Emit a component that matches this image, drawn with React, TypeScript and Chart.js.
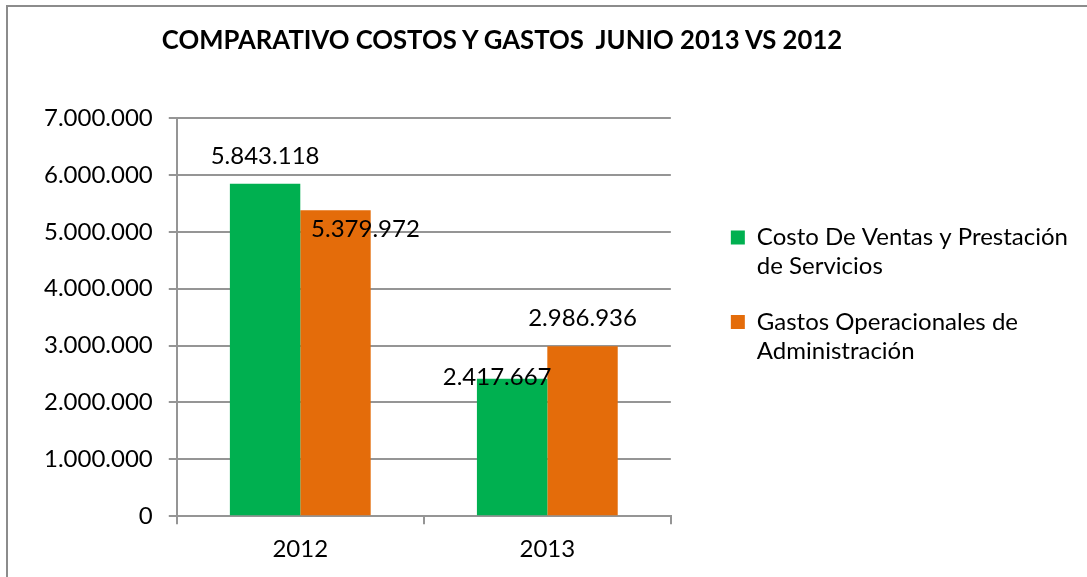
import React, { useEffect, useRef } from "react";
import { Chart, registerables } from "chart.js";

Chart.register(...registerables);

const categories = ["2012", "2013"];
const seriesNames = [
  "Costo De Ventas y Prestación de Servicios",
  "Gastos Operacionales de Administración",
];
const legendLines = [
  ["Costo De Ventas y Prestación", "de Servicios"],
  ["Gastos Operacionales de", "Administración"],
];
const costoVentas = [5843118, 2417667];
const gastosOperacionales = [5379972, 2986936];
const yTicks = [0, 1000000, 2000000, 3000000, 4000000, 5000000, 6000000, 7000000];
const title = "COMPARATIVO COSTOS Y GASTOS  JUNIO 2013 VS 2012";

const colors = ["#00B050", "#E46C0A"];
const gridColor = "#959595";
const FONT = "Lato";

// label offsets (pixels) relative to the top-centre of each bar, per dataset / point
const labelOffsets = [
  [[0, -28], [-15, -1]],
  [[30, 19], [0, -28]],
];

const fmt = (v: number) =>
  String(Math.round(v)).replace(/\B(?=(\d{3})+(?!\d))/g, ".");

const valueLabels = {
  id: "valueLabels",
  afterDatasetsDraw(chart: any) {
    const ctx = chart.ctx;
    ctx.save();
    ctx.font = `24px ${FONT}`;
    ctx.fillStyle = "#000";
    ctx.textAlign = "center";
    ctx.textBaseline = "middle";
    chart.data.datasets.forEach((ds: any, i: number) => {
      const meta = chart.getDatasetMeta(i);
      meta.data.forEach((el: any, j: number) => {
        const off = labelOffsets[i][j];
        ctx.fillText(fmt(ds.data[j]), el.x + off[0], el.y + off[1]);
      });
    });
    ctx.restore();
  },
};

export default function App() {
  const ref = useRef<HTMLCanvasElement>(null);

  useEffect(() => {
    if (!ref.current) return;
    Chart.defaults.font.family = FONT;
    const chart = new Chart(ref.current, {
      type: "bar",
      data: {
        labels: categories,
        datasets: [
          {
            label: seriesNames[0],
            data: costoVentas,
            backgroundColor: colors[0],
            categoryPercentage: 0.57,
            barPercentage: 1,
          },
          {
            label: seriesNames[1],
            data: gastosOperacionales,
            backgroundColor: colors[1],
            categoryPercentage: 0.57,
            barPercentage: 1,
          },
        ],
      },
      options: {
        responsive: false,
        animation: false,
        layout: { padding: { left: 28, right: 9, top: 118, bottom: 2 } },
        plugins: {
          tooltip: { enabled: false },
          title: { display: false },
          legend: {
            display: true,
            position: "right",
            align: "start",
            maxWidth: 420,
            title: { display: true, text: "", padding: { top: 0, bottom: 66 } },
            labels: {
              boxWidth: 14,
              boxHeight: 14,
              padding: 27,
              color: "#000",
              font: { size: 24, family: FONT },
              generateLabels: (c: any) =>
                c.data.datasets.map((ds: any, i: number) => ({
                  text: legendLines[i],
                  fillStyle: ds.backgroundColor,
                  strokeStyle: ds.backgroundColor,
                  lineWidth: 0,
                  hidden: false,
                  datasetIndex: i,
                  fontColor: "#000",
                })),
            },
          },
        },
        scales: {
          x: {
            grid: {
              display: true,
              drawOnChartArea: false,
              offset: true,
              tickLength: 8,
              color: gridColor,
              lineWidth: 2,
            },
            border: { display: true, color: gridColor, width: 2 },
            ticks: { color: "#000", font: { size: 24, family: FONT }, padding: 11 },
          },
          y: {
            min: 0,
            max: 7000000,
            afterBuildTicks: (s: any) => {
              s.ticks = yTicks.map((v) => ({ value: v }));
            },
            grid: { color: gridColor, lineWidth: 2, tickLength: 8 },
            border: { display: true, color: gridColor, width: 2 },
            ticks: {
              color: "#000",
              font: { size: 24, family: FONT },
              padding: 16,
              callback: (v: any) => fmt(Number(v)),
            },
          },
          gap: {
            type: "linear",
            position: "right",
            display: true,
            grid: { display: false, drawTicks: false },
            border: { display: false },
            ticks: { display: false },
            afterFit: (s: any) => {
              s.width = 33;
            },
          },
        },
      },
      plugins: [valueLabels],
    } as any);
    return () => chart.destroy();
  }, []);

  return (
    <div style={{ position: "fixed", inset: 0, overflow: "hidden", background: "#fff" }}>
      <div
        style={{
          position: "absolute",
          left: 6,
          top: 5,
          width: 1200,
          height: 700,
          border: "2px solid #8c8c8c",
          boxSizing: "border-box",
        }}
      />
      <canvas
        ref={ref}
        width={1087}
        height={577}
        style={{ position: "absolute", left: 0, top: 0, width: 1087, height: 577 }}
      />
      <div
        style={{
          position: "absolute",
          left: 0,
          top: 24,
          width: 1004,
          textAlign: "center",
          fontFamily: FONT,
          fontWeight: "bold",
          fontSize: 25.7,
          lineHeight: "30px",
          color: "#000",
          whiteSpace: "pre",
        }}
      >
        {title}
      </div>
    </div>
  );
}
